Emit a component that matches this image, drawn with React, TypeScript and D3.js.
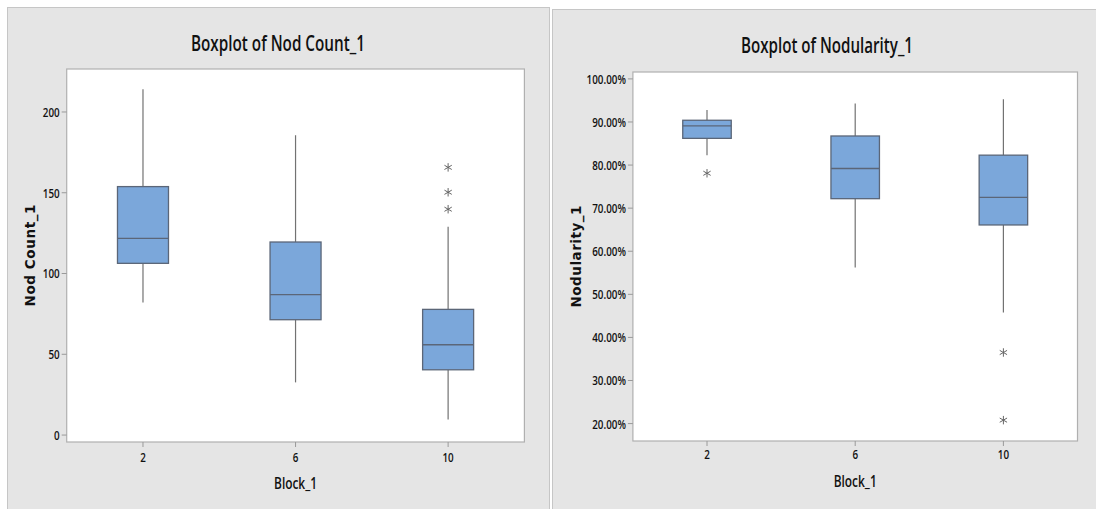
import React from "react";
import * as d3 from "d3";

const blocks = [2, 6, 10];

// Nod Count_1: [whiskerLow, Q1, median, Q3, whiskerHigh]
const nodCountStats = [
  [82, 106.3, 121.8, 153.8, 214],
  [32.6, 71.4, 86.9, 119.5, 185.6],
  [9.7, 40.4, 55.9, 77.8, 129],
];
const nodCountOutliers = [[], [], [165.7, 150.3, 139.8]];
const nodCountTicks = [0, 50, 100, 150, 200];

// Nodularity_1 (%)
const nodularityStats = [
  [82.3, 86.2, 89.1, 90.4, 92.8],
  [56.2, 72.2, 79.2, 86.75, 94.3],
  [45.8, 66.1, 72.5, 82.3, 95.3],
];
const nodularityOutliers = [[78.1], [], [36.5, 20.8]];
const nodularityTicks = [20, 30, 40, 50, 60, 70, 80, 90, 100];

const NARROW = "'Open Sans', 'DejaVu Sans Condensed', sans-serif";
const WIDE = "'DejaVu Sans', Verdana, sans-serif";

function NText(props: { x: number; y: number; size: number; sx?: number; anchor?: string; children: any }) {
  const sx = props.sx ?? 0.82;
  return (
    <text transform={`translate(${props.x},${props.y}) scale(${sx},1)`} textAnchor={props.anchor ?? "middle"}
      dominantBaseline="central" fontFamily={NARROW} fontWeight={600} fontSize={props.size} fill="#111">
      {props.children}
    </text>
  );
}

type PanelProps = {
  px: number; py: number; pw: number; ph: number;
  plot: { x0: number; x1: number; y0: number; y1: number };
  yDomain: [number, number];
  title: string; titleX: number; titleY: number; titleW: number;
  yLabel: string; yLabelX: number;
  stats: number[][]; outliers: number[][];
  ticks: number[]; fmt: (v: number) => string;
  xTickY: number; xLabelY: number; boxW: number;
};

function Panel(p: PanelProps) {
  const x = d3.scaleLinear().domain([0, 12]).range([p.plot.x0, p.plot.x1]);
  const y = d3.scaleLinear().domain(p.yDomain).range([p.plot.y1, p.plot.y0]);
  const ast = d3.symbol().type(d3.symbolAsterisk).size(50)();
  const midY = (p.plot.y0 + p.plot.y1) / 2;
  const midX = (p.plot.x0 + p.plot.x1) / 2;
  return (
    <g>
      <rect x={p.px + 0.5} y={p.py + 0.5} width={p.pw} height={p.ph} fill="#e5e5e5" stroke="#c6c6c6" />
      <text x={p.titleX} y={p.titleY} textAnchor="middle" dominantBaseline="central"
        fontFamily={NARROW} fontWeight={600} fontSize={21} fill="#111" textLength={p.titleW} lengthAdjust="spacingAndGlyphs">{p.title}</text>
      <rect x={p.plot.x0} y={p.plot.y0} width={p.plot.x1 - p.plot.x0} height={p.plot.y1 - p.plot.y0}
        fill="#fff" stroke="#b0b0b0" strokeWidth={1.2} />
      {p.ticks.map((t) => (
        <g key={t}>
          <line x1={p.plot.x0 - 5} x2={p.plot.x0} y1={y(t)} y2={y(t)} stroke="#9a9a9a" />
          <NText x={p.plot.x0 - 7} y={y(t)} size={12} anchor="end">{p.fmt(t)}</NText>
        </g>
      ))}
      {blocks.map((b) => (
        <g key={b}>
          <line x1={x(b)} x2={x(b)} y1={p.plot.y1} y2={p.plot.y1 + 5} stroke="#9a9a9a" />
          <NText x={x(b)} y={p.xTickY} size={12}>{b}</NText>
        </g>
      ))}
      <text x={midX} y={p.xLabelY} textAnchor="middle" dominantBaseline="central"
        fontFamily={NARROW} fontWeight={600} fontSize={17} fill="#111" textLength={43} lengthAdjust="spacingAndGlyphs">Block_1</text>
      <text transform={`translate(${p.yLabelX},${midY}) rotate(-90)`} textAnchor="middle" dominantBaseline="central"
        fontFamily={WIDE} fontWeight="bold" fontSize={13.5} fill="#111" textLength={102} lengthAdjust="spacing">{p.yLabel}</text>
      {blocks.map((b, i) => {
        const [lo, q1, med, q3, hi] = p.stats[i];
        const cx = x(b);
        return (
          <g key={b}>
            <line x1={cx} x2={cx} y1={y(q3)} y2={y(hi)} stroke="#727272" strokeWidth={1.2} />
            <line x1={cx} x2={cx} y1={y(q1)} y2={y(lo)} stroke="#727272" strokeWidth={1.2} />
            <rect x={cx - p.boxW / 2} y={y(q3)} width={p.boxW} height={y(q1) - y(q3)}
              fill="#7ba7da" stroke="#5b6678" strokeWidth={1.3} />
            <line x1={cx - p.boxW / 2} x2={cx + p.boxW / 2} y1={y(med)} y2={y(med)} stroke="#5b6678" strokeWidth={1.3} />
            {p.outliers[i].map((o, j) => (
              <path key={j} d={ast!} transform={`translate(${cx},${y(o)})`} fill="none" stroke="#666" strokeWidth={1} />
            ))}
          </g>
        );
      })}
    </g>
  );
}

export default function App() {
  return (
    <svg width={1096} height={509} style={{ position: "absolute", left: 0, top: 0 }}>
      <rect width={1096} height={509} fill="#fff" />
      <Panel px={7} py={7} pw={542} ph={510}
        plot={{ x0: 66.7, x1: 524.4, y0: 69, y1: 442 }}
        yDomain={[-4.3, 226.6]}
        title="Boxplot of Nod Count_1" titleX={278} titleY={43} titleW={174}
        yLabel="Nod Count_1" yLabelX={30}
        stats={nodCountStats} outliers={nodCountOutliers}
        ticks={nodCountTicks} fmt={(v) => String(v)}
        xTickY={457} xLabelY={482} boxW={51} />
      <Panel px={552} py={9} pw={560} ph={510}
        plot={{ x0: 632.9, x1: 1077.5, y0: 72, y1: 441 }}
        yDomain={[15.96, 101.6]}
        title="Boxplot of Nodularity_1" titleX={827} titleY={45} titleW={172}
        yLabel="Nodularity_1" yLabelX={576}
        stats={nodularityStats} outliers={nodularityOutliers}
        ticks={nodularityTicks} fmt={(v) => v.toFixed(2) + "%"}
        xTickY={454} xLabelY={480} boxW={48.5} />
    </svg>
  );
}
